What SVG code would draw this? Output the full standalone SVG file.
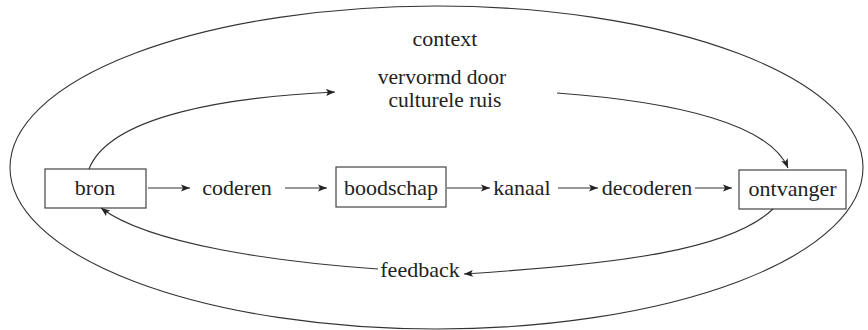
<svg xmlns="http://www.w3.org/2000/svg" width="868" height="330" viewBox="0 0 868 330">
<style>
text{font-family:'Liberation Serif','DejaVu Serif','Noto Serif',serif;font-size:22px;fill:#222;text-anchor:middle}
.sm{font-size:21.5px}
.box{fill:#fff;stroke:#444;stroke-width:1.2}
.c{fill:none;stroke:#333;stroke-width:1.1}
</style>
<defs>
<marker id="ah" markerUnits="userSpaceOnUse" markerWidth="10" markerHeight="8" refX="9" refY="3.5" orient="auto" viewBox="0 0 10 7">
<path d="M0,0 L9,3.5 L0,7 L2,3.5 z" fill="#222"/>
</marker>
</defs>
<rect width="868" height="330" fill="#fff"/>
<g id="context">
<ellipse cx="436.5" cy="167.5" rx="426.5" ry="161.5" class="c"/>
<text x="445" y="46">context</text>
</g>
<g id="ruis">
<text class="sm" x="442" y="83.5">vervormd door</text>
<text class="sm" x="445" y="107">culturele ruis</text>
</g>
<g id="bron"><rect class="box" x="45" y="169" width="101" height="39"/><text x="95" y="195">bron</text></g>
<g id="coderen"><text x="237" y="195">coderen</text></g>
<g id="boodschap"><rect class="box" x="336" y="167" width="110" height="40"/><text x="391" y="195">boodschap</text></g>
<g id="kanaal"><text x="522" y="195">kanaal</text></g>
<g id="decoderen"><text x="647" y="195">decoderen</text></g>
<g id="ontvanger"><rect class="box" x="739" y="170" width="107" height="39"/><text x="792.5" y="196">ontvanger</text></g>
<g id="feedback"><text x="420" y="277">feedback</text></g>
<g id="connectors">
<line class="c" x1="148" y1="188" x2="190" y2="188" marker-end="url(#ah)"/>
<line class="c" x1="285" y1="188" x2="327" y2="188" marker-end="url(#ah)"/>
<line class="c" x1="447" y1="188" x2="490" y2="188" marker-end="url(#ah)"/>
<line class="c" x1="558" y1="188" x2="598" y2="188" marker-end="url(#ah)"/>
<line class="c" x1="695" y1="188" x2="732" y2="188" marker-end="url(#ah)"/>
<path class="c" d="M89,169 C110,115 230,97 335,92" marker-end="url(#ah)"/>
<path class="c" d="M557,93 C680,102 770,125 788,168" marker-end="url(#ah)"/>
<path class="c" d="M773,209 C730,250 620,264 464,274" marker-end="url(#ah)"/>
<path class="c" d="M378,269 C280,262 150,245 101,208" marker-end="url(#ah)"/>
</g>
</svg>
